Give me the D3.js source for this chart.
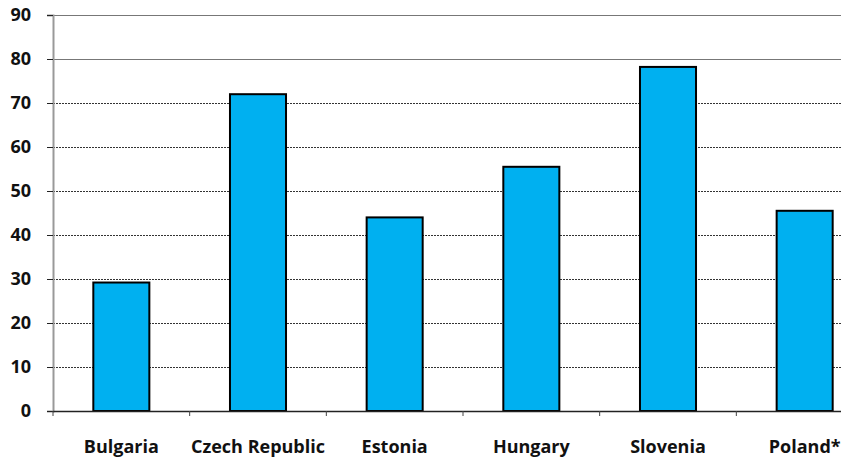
<!DOCTYPE html>
<html>
<head>
<meta charset="utf-8">
<script src="https://cdn.jsdelivr.net/npm/d3@7/dist/d3.min.js"></script>
<style>
  html, body { margin: 0; padding: 0; background: #fff; }
  svg { display: block; }
  text { font-family: "Open Sans", "Lato", sans-serif; font-weight: 700; fill: #111; }
</style>
</head>
<body>
<svg id="chart" width="841" height="457"></svg>
<script>
// Country categories and their values
const countries = ["Bulgaria", "Czech Republic", "Estonia", "Hungary", "Slovenia", "Poland*"];
const values = [29.2, 72.0, 44.0, 55.5, 78.2, 45.5];
const yTicks = [0, 10, 20, 30, 40, 50, 60, 70, 80, 90];

const svg = d3.select("#chart");
const margin = { left: 53, top: 15, bottom: 46 };
const plotRight = 873;           // plot runs past the right edge of the canvas
const height = 457;

const x = d3.scaleBand()
  .domain(countries)
  .range([margin.left, plotRight])
  .paddingInner(0.59)
  .paddingOuter(0.295);

const y = d3.scaleLinear()
  .domain([0, 90])
  .range([height - margin.bottom, margin.top]);

// horizontal gridlines
svg.append("g")
  .selectAll("line")
  .data(yTicks.filter(d => d > 0))
  .join("line")
  .attr("x1", margin.left)
  .attr("x2", plotRight)
  .attr("y1", d => Math.round(y(d)) + 0.5)
  .attr("y2", d => Math.round(y(d)) + 0.5)
  .attr("stroke", d => d >= 80 ? "#777" : "#333")
  .attr("stroke-width", 1)
  .attr("stroke-dasharray", d => d >= 80 ? null : "2,1");

// bars
svg.append("g")
  .selectAll("rect")
  .data(values)
  .join("rect")
  .attr("x", (d, i) => x(countries[i]))
  .attr("y", d => y(d))
  .attr("width", x.bandwidth())
  .attr("height", d => y(0) - y(d))
  .attr("fill", "#00B0F0")
  .attr("stroke", "#000")
  .attr("stroke-width", 2);

// y axis
const yAxis = d3.axisLeft(y).tickValues(yTicks).tickSize(6).tickPadding(16);
const gy = svg.append("g")
  .attr("transform", `translate(${margin.left},0)`)
  .call(yAxis);
gy.select(".domain").attr("stroke", "#999").attr("stroke-width", 2);
gy.selectAll(".tick line").attr("stroke", "#222");
gy.selectAll(".tick text")
  .style("font-size", "18px")
  .attr("fill", "#111");

// x axis with ticks at category boundaries
const gx = svg.append("g")
  .attr("transform", `translate(0,${y(0)})`);
gx.append("line")
  .attr("x1", margin.left).attr("x2", plotRight)
  .attr("y1", 0.5).attr("y2", 0.5)
  .attr("stroke", "#222").attr("stroke-width", 1.5);
const step = x.step();
const bounds = d3.range(countries.length + 1).map(i => margin.left + i * step);
gx.selectAll("line.tick")
  .data(bounds)
  .join("line")
  .attr("class", "tick")
  .attr("x1", d => d).attr("x2", d => d)
  .attr("y1", 0).attr("y2", 5)
  .attr("stroke", "#444");
gx.selectAll("text")
  .data(countries)
  .join("text")
  .attr("x", d => x(d) + x.bandwidth() / 2)
  .attr("y", 42)
  .attr("text-anchor", "middle")
  .style("font-size", "18px")
  .text(d => d);
</script>
</body>
</html>
